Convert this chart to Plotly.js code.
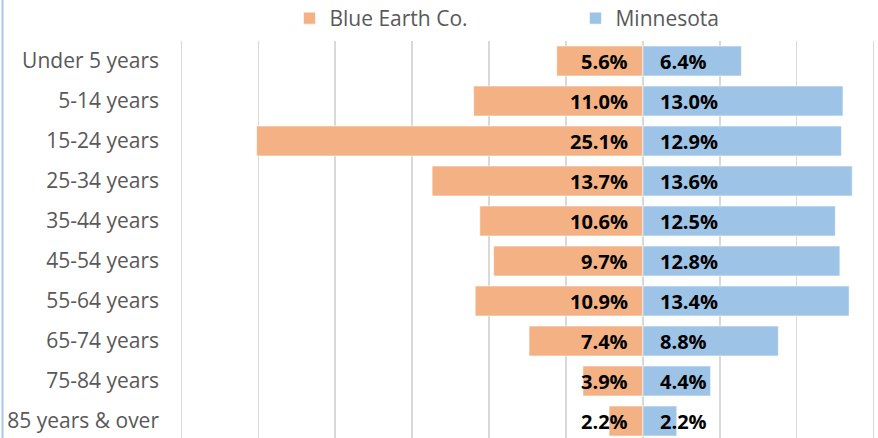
<!DOCTYPE html>
<html>
<head>
<meta charset="utf-8">
<script src="https://cdn.plot.ly/plotly-3.0.1.min.js"></script>
<style>
html,body{margin:0;padding:0;overflow:hidden;background:#fff;}
#chart{width:878px;height:441px;}
</style>
</head>
<body>
<div id="chart"></div>
<script>
const categories = ["Under 5 years","5-14 years","15-24 years","25-34 years","35-44 years","45-54 years","55-64 years","65-74 years","75-84 years","85 years & over"];
const blueEarth = [5.6, 11.0, 25.1, 13.7, 10.6, 9.7, 10.9, 7.4, 3.9, 2.2];
const minnesota = [6.4, 13.0, 12.9, 13.6, 12.5, 12.8, 13.4, 8.8, 4.4, 2.2];
const seriesNames = ["Blue Earth Co.", "Minnesota"];

const orange = "#F4B183";
const blue = "#9DC3E6";

const traces = [
  {
    type: "bar", orientation: "h", name: seriesNames[0],
    y: categories, x: blueEarth.map(v => -v),
    marker: {color: orange, line: {color: "#ffffff", width: 0.6}},
    hoverinfo: "skip"
  },
  {
    type: "bar", orientation: "h", name: seriesNames[1],
    y: categories, x: minnesota,
    marker: {color: blue, line: {color: "#ffffff", width: 0.6}},
    hoverinfo: "skip"
  }
];

const labelFont = {family: "Open Sans", size: 20, color: "#000000", weight: "bold"};
const annotations = [];
categories.forEach((c, i) => {
  annotations.push({
    x: 0, y: c, xref: "x", yref: "y", text: "<b>" + blueEarth[i].toFixed(1) + "%</b>",
    showarrow: false, xanchor: "right", yanchor: "middle", xshift: -13, font: labelFont
  });
  annotations.push({
    x: 0, y: c, xref: "x", yref: "y", text: "<b>" + minnesota[i].toFixed(1) + "%</b>",
    showarrow: false, xanchor: "left", yanchor: "middle", xshift: 15, font: labelFont
  });
});

const layout = {
  width: 878, height: 441,
  margin: {l: 180, r: 3, t: 41, b: 0, pad: 0, autoexpand: false},
  paper_bgcolor: "#ffffff", plot_bgcolor: "#ffffff",
  barmode: "relative", bargap: 0.25,
  font: {family: "Open Sans", color: "#595959", size: 21},
  showlegend: true,
  legend: {
    orientation: "h", x: 0.569, xanchor: "center", y: 1.005, yanchor: "bottom",
    yref: "paper", font: {size: 21, color: "#595959"}, traceorder: "normal",
    entrywidth: 241, itemwidth: 30, bgcolor: "rgba(0,0,0,0)"
  },
  xaxis: {
    range: [-30.08, 15.08], dtick: 5, tick0: 0, showticklabels: false,
    showgrid: true, gridcolor: "#D9D9D9", gridwidth: 1.3,
    zeroline: true, zerolinecolor: "#D9D9D9", zerolinewidth: 1.3,
    showline: false, fixedrange: true
  },
  yaxis: {
    type: "category", autorange: "reversed", showgrid: false, zeroline: false,
    showline: false, ticks: "", ticklabelstandoff: 20,
    tickfont: {size: 21, color: "#595959"}, fixedrange: true
  },
  annotations: annotations,
  shapes: [{
    type: "line", xref: "paper", yref: "paper",
    x0: (2.5 - 180) / 695, x1: (2.5 - 180) / 695, y0: -0.01, y1: 1.12,
    line: {color: "#A9C8EA", width: 2}
  }]
};

Plotly.newPlot("chart", traces, layout, {displayModeBar: false, staticPlot: true});
</script>
</body>
</html>
